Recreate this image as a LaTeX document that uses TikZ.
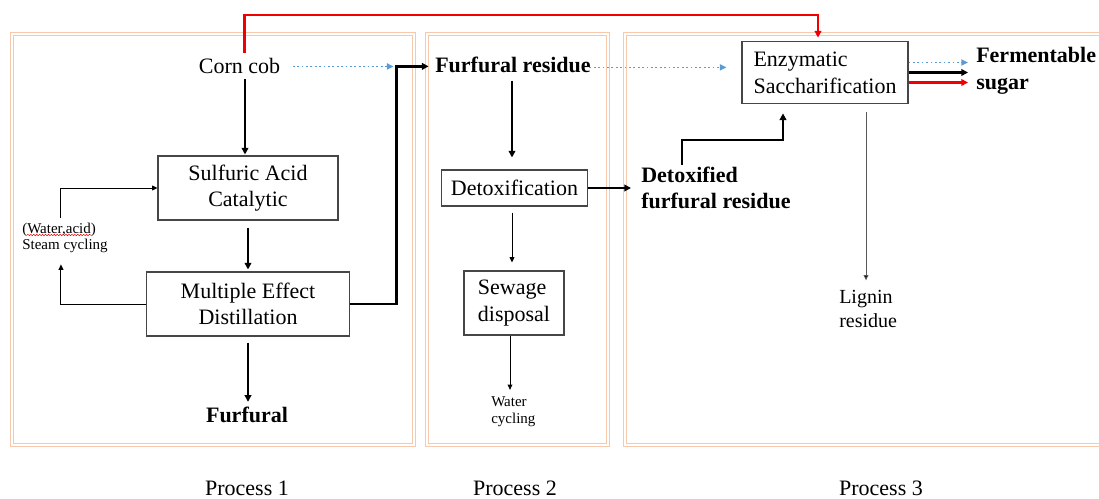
\documentclass[tikz,border=0pt]{standalone}
\usepackage{fontspec}
\setmainfont{Liberation Serif}
\usetikzlibrary{arrows.meta,calc,decorations.pathmorphing}
\definecolor{peach}{RGB}{247,200,170}
\definecolor{dotblue}{RGB}{91,155,213}
\definecolor{myred}{RGB}{240,0,0}
\definecolor{boxgray}{RGB}{70,70,70}
\begin{document}
\begin{tikzpicture}[x=0.75pt,y=-0.75pt,
  big/.style={font=\fontsize{16.5}{20}\selectfont},
  bigb/.style={font=\fontsize{16.5}{20}\selectfont\bfseries},
  mid/.style={font=\fontsize{15}{17.5}\selectfont},
  small/.style={font=\fontsize{11.25}{12.5}\selectfont},
  procbox/.style={draw=boxgray, line width=0.8pt, inner sep=0pt, big, align=center},
  procboxl/.style={draw=boxgray, line width=0.8pt, inner sep=0pt, big, align=left},
  frame/.style={draw=peach, line width=0.8pt, double=white, double distance=1.6pt},
  thickarr/.style={line width=1.7pt, -{Triangle[length=5pt,width=5pt]}},
  thinarr/.style={line width=0.7pt, -{Triangle[length=4pt,width=3.6pt]}},
  grayarr/.style={draw=black!65, line width=0.7pt, -{Triangle[length=4pt,width=3.6pt,fill=black]}},
  redarr/.style={draw=myred, line width=1.6pt, -{Triangle[length=5pt,width=5pt]}},
  bluearr/.style={draw=dotblue, line width=1.3pt, dash pattern=on 1.3pt off 2pt, -{Triangle[length=5pt,width=4.5pt]}}
]
\useasboundingbox (0,0) rectangle (1099,499);
\clip (0,0) rectangle (1099,499);

% frames
\draw[frame] (12,34) rectangle (414,445);
\draw[frame] (427,34) rectangle (608,445);
\draw[frame] (625,34) rectangle (1130,445);

% process 1
\node[big, anchor=base] (corn) at (239.5,74) {Corn cob};
\node[procbox, minimum width=135pt, minimum height=48pt] (sulf) at (248,188) {Sulfuric Acid\\Catalytic};
\node[procbox, minimum width=152pt, minimum height=48pt] (mult) at (248,304) {Multiple Effect\\Distillation};
\node[bigb, anchor=base] (furf) at (247,422) {Furfural};
\node[small, align=left, anchor=west, inner sep=3pt] (steam) at (18,238) {(Water,acid)\\Steam cycling};
\draw[myred, line width=0.4pt, decorate, decoration={snake, amplitude=0.5pt, segment length=2.2pt}] (27,235) -- (91,235);

% process 2
\node[bigb, anchor=base] (fres) at (513,73) {Furfural residue};
\node[procbox, minimum width=110pt, minimum height=27pt] (detox) at (514.5,188) {Detoxification};
\node[procboxl, minimum width=75pt, minimum height=48pt] (sew) at (514,303) {Sewage\\disposal};
\node[small, align=left, anchor=west, inner sep=3pt] (water) at (487,412) {Water\\cycling};

% process 3
\node[procboxl, minimum width=124.5pt, minimum height=47pt] (enz) at (825,72.5) {Enzymatic\\Saccharification};
\node[bigb, align=left, anchor=west, inner sep=0pt] (detfr) at (641,188) {Detoxified\\furfural residue};
\node[bigb, align=left, anchor=west, inner sep=0pt] (ferm) at (976,71) {Fermentable\\sugar};
\node[mid, align=left, anchor=west, inner sep=0pt] (lig) at (839,309) {Lignin\\residue};

\node[big, anchor=base, inner sep=0pt] (p1) at (247,495) {Process 1};
\node[big, anchor=base, inner sep=0pt] (p2) at (515,495) {Process 2};
\node[big, anchor=base, inner sep=0pt] (p3) at (881,495) {Process 3};

% connectors process 1
\draw[redarr] ($(corn.north)+(5,-1)$) |- ($(enz.north)+(-7,-26)$) -- ($(enz.north)+(-7,-3)$);
\draw[thickarr] ($(corn.south -| sulf.north)+(-3,0)$) -- ($(sulf.north)+(-3,-1)$);
\draw[thickarr] ($(sulf.south)+(0,7)$) -- ($(mult.north)+(0,-2)$);
\draw[thickarr] ($(mult.south)+(0,6)$) -- (mult.south |- furf.north);
\draw[thinarr] (mult.west) -| ($(steam.south)+(-4,7)$);
\draw[thinarr] ($(steam.north)+(-4,-1)$) |- (sulf.west);
\draw[thickarr] (mult.east) -| ($(fres.west)+(-34,1)$) -- ($(fres.west)+(-2,1)$);
\draw[bluearr] ($(corn.east)+(8,0)$) -- ($(corn.east -| fres.west)+(-37,0)$);

% connectors process 2
\draw[bluearr] ($(fres.east)+(-6,2)$) -- ($(fres.east -| enz.west)+(-15,2)$);
\draw[thickarr] ($(fres.south)+(-1,3)$) -- ($(fres.south |- detox.north)+(-1,-12)$);
\draw[thickarr] (detox.east) -- ($(detfr.west)+(-10,0)$);
\draw[thinarr] ($(detox.south)+(-2.5,6)$) -- ($(detox.south |- sew.north)+(-2.5,-8)$);
\draw[thinarr] ($(sew.south)+(-4,0)$) -- ($(sew.south |- water.north)+(-4,-3)$);

% connectors process 3
\draw[thickarr] ($(detfr.north west)+(41,-2)$) |- ($(enz.south)+(-42,36)$) -- ($(enz.south)+(-42,9)$);
\draw[bluearr] ($(enz.east)+(0,-10)$) -- ($(enz.east -| ferm.west)+(-8,-10)$);
\draw[thickarr] (enz.east) -- ($(enz.east -| ferm.west)+(-8,0)$);
\draw[redarr] ($(enz.east)+(0,10)$) -- ($(enz.east -| ferm.west)+(-8,10)$);
\draw[grayarr] ($(enz.south)+(41,8)$) -- ($(lig.north -| enz.south)+(41,-10)$);
\end{tikzpicture}
\end{document}
